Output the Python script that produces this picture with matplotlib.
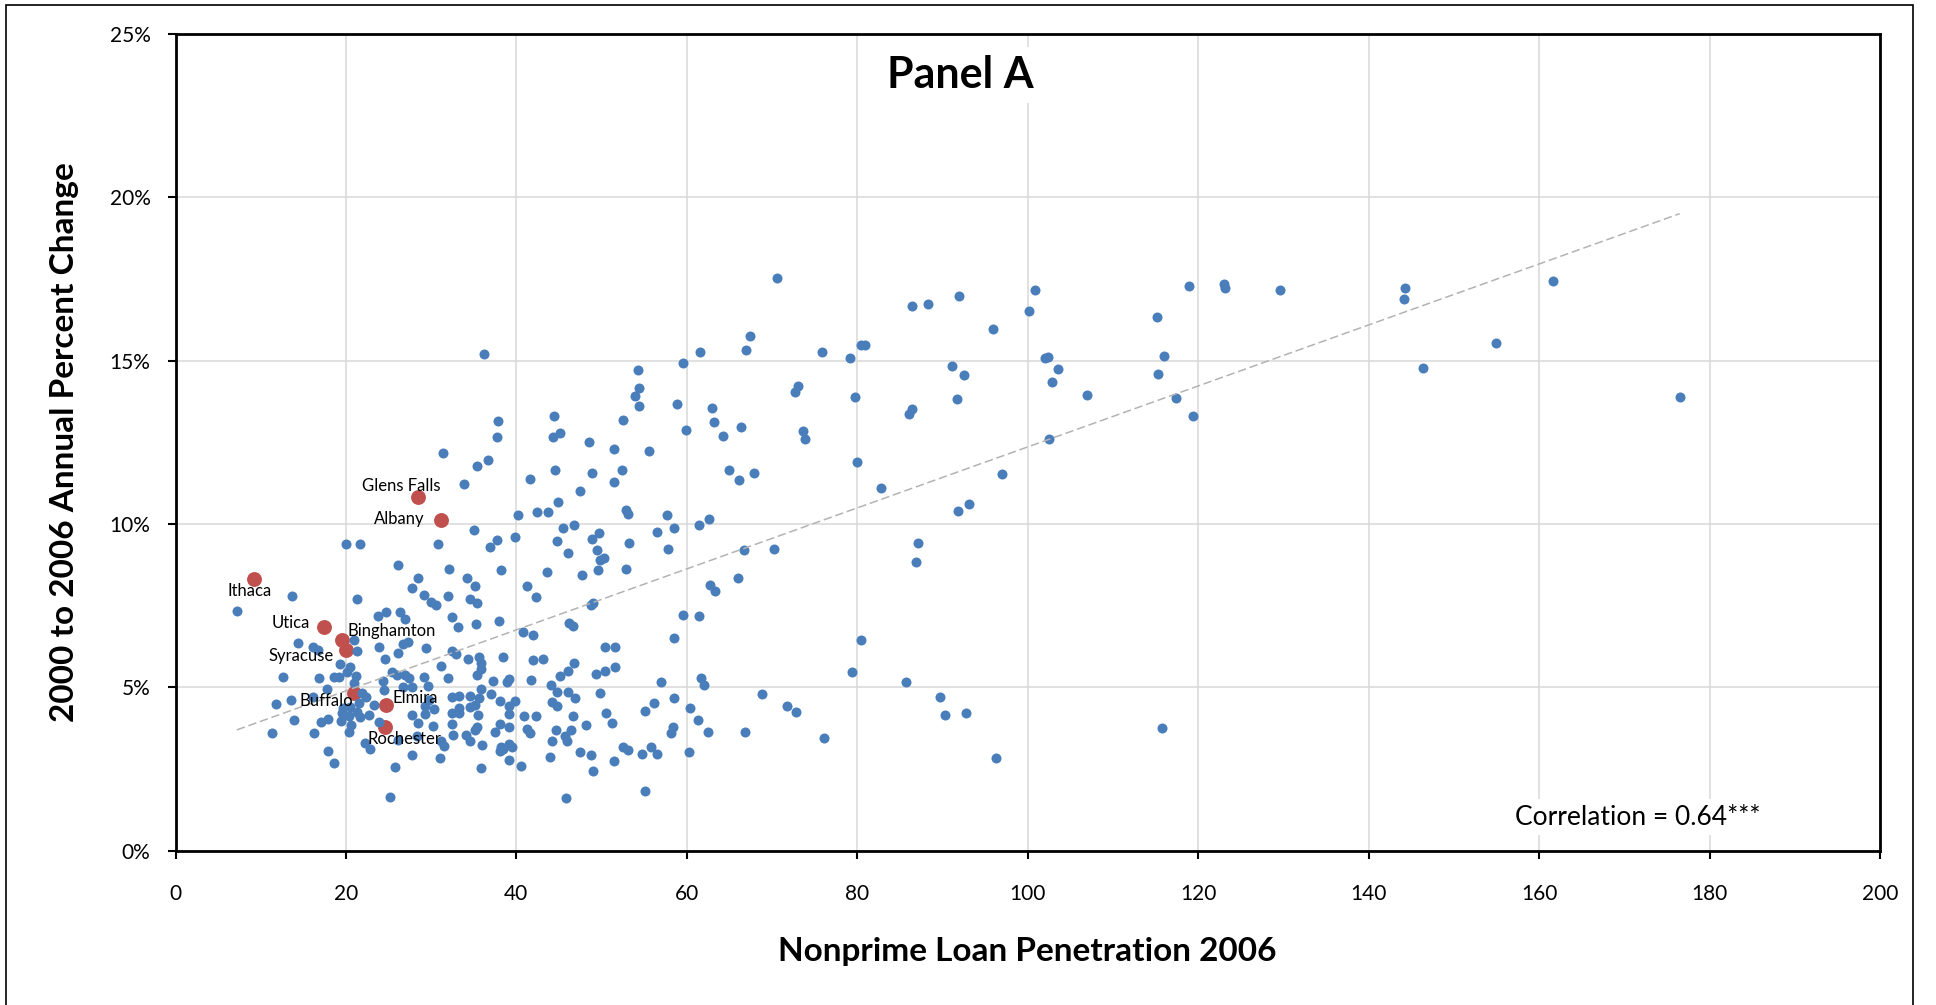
import numpy as np
import matplotlib.pyplot as plt
from matplotlib.ticker import MultipleLocator, FuncFormatter
from matplotlib.patches import Rectangle

plt.rcParams['font.family'] = ['Lato', 'DejaVu Sans']

# metro areas: nonprime loan penetration 2006 (x) and 2000-2006 annual % change (y)
x_msa = [
    36.2, 37.8, 37.75, 31.4, 35.4, 36.7, 33.9, 35.0, 36.85, 37.75, 30.8, 20.0, 21.6, 26.15, 28.45, 32.1, 34.15, 7.2,
    70.6, 67.4, 66.9, 61.5, 59.5, 75.8, 79.2, 80.4, 80.9, 54.25, 54.4, 53.9, 54.4, 58.9, 62.9, 63.15, 59.9, 66.4,
    64.3, 72.65, 73.05, 79.75, 73.6, 73.9, 79.95, 82.75, 64.9, 66.15, 67.85, 44.4, 44.3, 45.1, 48.5, 51.4, 52.5,
    55.6, 48.9, 44.5, 52.4, 51.4, 41.65, 47.45, 44.85, 40.15, 42.4, 43.65, 46.7, 45.5, 44.8, 46.1, 48.85, 49.75,
    49.45, 49.8, 50.3, 49.55, 47.7, 43.55, 39.85, 38.25, 52.9, 53.1, 53.25, 52.85, 57.7, 58.45, 56.45, 57.8, 61.4,
    62.65, 66.7, 70.25, 65.95,
    62.7, 63.3, 59.6, 61.4, 58.45, 80.4, 79.4, 68.85, 71.75, 72.75, 76.15, 66.85, 61.65, 62.05, 57.0, 58.55, 60.4,
    61.25, 62.45, 60.2, 58.1, 58.4, 56.1, 55.75, 56.45,
    86.4, 88.3, 91.9, 95.9, 100.1, 100.9, 115.2, 118.9, 123.0, 123.2, 129.6, 91.1, 92.5, 91.7, 86.1, 86.4, 102.0,
    102.4, 103.5, 102.9, 106.9, 116.0, 115.3, 117.4, 119.4, 102.5, 97.0, 93.1, 91.8, 87.1, 86.9, 85.7, 89.7, 90.3,
    92.8, 115.8, 96.3, 144.3, 144.2, 146.4, 154.9, 161.6, 176.5,
    35.1, 34.6, 35.35, 41.2, 42.25, 33.2, 35.3, 37.9, 40.8, 42.0, 46.2, 46.6, 48.8, 48.95, 50.45, 51.6, 34.35, 35.6,
    35.9, 35.9, 35.35, 38.4, 41.9, 43.15, 46.8, 46.1, 45.15, 49.35, 50.35, 51.6, 37.3, 38.95, 39.1, 41.75, 44.1,
    35.85, 37.05, 34.6, 35.65, 33.3, 38.05, 39.8, 39.15, 44.8, 46.0, 46.9, 44.15, 44.75, 49.85, 33.3, 34.6, 35.15,
    33.25, 35.5, 39.1, 40.9, 42.3, 46.6, 50.55, 55.05, 38.05, 39.15, 51.25, 48.2, 35.4, 35.15, 41.3, 34.1, 34.55,
    37.5, 41.6, 44.65, 45.75, 45.95, 46.4, 44.15, 35.95, 38.25, 38.45, 39.15, 39.45, 38.05, 39.1, 40.5, 35.8, 44.0,
    47.5, 48.8, 49.0, 51.5, 52.55, 53.15, 54.7, 55.1, 45.85,
    13.7, 21.35, 27.7, 29.15, 29.95, 30.55, 32.0, 23.8, 24.65, 26.4, 26.9, 32.4, 20.9, 14.35, 16.1, 16.75, 21.35,
    23.9, 26.15, 26.7, 27.25, 29.35, 24.6, 32.5, 32.95, 19.35, 20.45, 20.15, 12.65, 16.8, 18.55, 19.2, 21.15, 21.0,
    25.35, 26.0, 26.95, 27.45, 29.15, 31.2, 31.95, 24.4, 24.45, 26.7, 27.7, 29.65, 17.75, 16.15, 13.6, 11.8, 21.85,
    22.35, 21.55, 19.7, 20.45, 21.25, 19.5, 20.4, 21.65, 19.4, 20.65, 20.4, 22.75, 23.3, 23.85, 17.05, 17.95, 13.95,
    11.3, 16.3, 17.85, 18.65, 22.25, 22.8, 25.75, 25.2, 26.15, 27.8, 28.35, 29.25, 28.5, 27.7, 30.25, 31.0, 31.55,
    31.1, 29.25, 30.3, 29.75, 32.6, 32.4, 32.5, 32.5,
]
y_msa = [
    15.19, 13.16, 12.66, 12.17, 11.77, 11.95, 11.23, 9.82, 9.31, 9.51, 9.40, 9.39, 9.39, 8.74, 8.36, 8.61, 8.34, 7.34,
    17.53, 15.77, 15.34, 15.27, 14.94, 15.26, 15.07, 15.49, 15.49, 14.71, 14.16, 13.91, 13.62, 13.68, 13.55, 13.12,
    12.87, 12.97, 12.69, 14.03, 14.23, 13.89, 12.86, 12.60, 11.89, 11.11, 11.65, 11.35, 11.57, 13.32, 12.66, 12.79,
    12.52, 12.31, 13.19, 12.24, 11.55, 11.64, 11.64, 11.28, 11.38, 11.01, 10.67, 10.28, 10.36, 10.36, 9.98, 9.87,
    9.47, 9.12, 9.53, 9.71, 9.20, 8.90, 8.95, 8.58, 8.43, 8.52, 9.60, 8.58, 10.42, 10.30, 9.41, 8.61, 10.27, 9.87,
    9.77, 9.23, 9.96, 10.16, 9.22, 9.25, 8.36,
    8.14, 7.94, 7.22, 7.17, 6.52, 6.46, 5.48, 4.80, 4.44, 4.25, 3.44, 3.63, 5.29, 5.07, 5.16, 4.68, 4.37, 3.99, 3.63,
    3.01, 3.60, 3.80, 4.52, 3.16, 2.97,
    16.67, 16.72, 16.98, 15.96, 16.52, 17.16, 16.33, 17.29, 17.35, 17.24, 17.16, 14.83, 14.55, 13.82, 13.37, 13.53,
    15.07, 15.12, 14.75, 14.36, 13.95, 15.15, 14.60, 13.87, 13.32, 12.60, 11.53, 10.60, 10.41, 9.41, 8.85, 5.17,
    4.71, 4.15, 4.20, 3.76, 2.85, 17.24, 16.88, 14.78, 15.55, 17.43, 13.90,
    8.10, 7.70, 7.59, 8.10, 7.76, 6.86, 6.94, 7.04, 6.70, 6.60, 6.98, 6.88, 7.52, 7.59, 6.25, 6.25, 5.86, 5.94, 5.76,
    5.55, 5.38, 5.92, 5.84, 5.88, 5.75, 5.51, 5.35, 5.41, 5.51, 5.61, 5.20, 5.17, 5.25, 5.21, 5.06, 4.95, 4.79, 4.75,
    4.66, 4.73, 4.58, 4.57, 4.43, 4.87, 4.87, 4.68, 4.55, 4.43, 4.82, 4.37, 4.41, 4.45, 4.22, 4.14, 4.17, 4.12, 4.12,
    4.13, 4.22, 4.27, 3.88, 3.80, 3.90, 3.84, 3.80, 3.71, 3.74, 3.53, 3.36, 3.63, 3.59, 3.69, 3.51, 3.36, 3.69, 3.37,
    3.25, 3.18, 3.10, 3.26, 3.18, 3.04, 2.77, 2.59, 2.52, 2.87, 3.03, 2.94, 2.45, 2.74, 3.18, 3.08, 2.96, 1.82, 1.62,
    7.80, 7.72, 8.03, 7.83, 7.60, 7.52, 7.81, 7.19, 7.30, 7.30, 7.08, 7.16, 6.45, 6.35, 6.25, 6.14, 6.12, 6.25, 6.04,
    6.32, 6.40, 6.19, 5.87, 6.12, 6.02, 5.71, 5.61, 5.48, 5.31, 5.28, 5.31, 5.31, 5.35, 5.12, 5.46, 5.38, 5.38, 5.28,
    5.33, 5.66, 5.30, 5.20, 4.92, 5.00, 5.00, 5.04, 4.95, 4.71, 4.61, 4.48, 4.82, 4.69, 4.51, 4.36, 4.41, 4.26, 4.20,
    4.12, 4.10, 3.98, 3.85, 3.64, 4.15, 4.46, 3.95, 3.93, 4.02, 4.00, 3.59, 3.61, 3.06, 2.69, 3.31, 3.11, 2.57, 1.63,
    3.39, 2.92, 3.52, 4.18, 3.92, 4.15, 3.83, 2.83, 3.20, 3.37, 4.43, 4.34, 4.61, 3.55, 4.20, 3.88, 4.72,
]

# New York metros, highlighted in red
ny_names = ['Ithaca', 'Utica', 'Binghamton', 'Syracuse', 'Buffalo', 'Elmira', 'Rochester', 'Glens Falls', 'Albany']
ny_x = [9.24, 17.46, 19.57, 20.0, 20.98, 24.69, 24.53, 28.5, 31.15]
ny_y = [8.31, 6.86, 6.45, 6.14, 4.82, 4.45, 3.79, 10.82, 10.12]

W, H = 1936, 1005
fig = plt.figure(figsize=(W / 100, H / 100), dpi=100)
ax = fig.add_axes([175.5 / W, 1 - 850.7 / H, (1880 - 175.5) / W, (850.7 - 34) / H])

ax.scatter(ny_x, ny_y, s=115, color='#c0504d', linewidths=0, zorder=3)
ax.scatter(x_msa, y_msa, s=52, color='#4a7ebb', linewidths=0, zorder=4)

# linear trend over all metros
all_x = np.array(x_msa + ny_x)
all_y = np.array(y_msa + ny_y)
slope, icpt = np.polyfit(all_x, all_y, 1)
xs = np.array([all_x.min(), all_x.max()])
ax.plot(xs, icpt + slope * xs, color='#b3b3b3', lw=1.1, ls=(0, (5.5, 2.5)), zorder=5)

# label offsets in pixels from each red point
offsets = {'Ithaca': (-5, -12), 'Utica': (-33, 4), 'Binghamton': (49, 9), 'Syracuse': (-45, -6),
           'Buffalo': (-28, -8), 'Elmira': (29, 7), 'Rochester': (20, -12), 'Glens Falls': (-17, 11),
           'Albany': (-42, 1)}
for name, px, py in zip(ny_names, ny_x, ny_y):
    ax.annotate(name, (px, py), xytext=offsets[name], textcoords='offset pixels',
                ha='center', va='center', fontsize=12, zorder=6)

ax.set_xlim(0, 200)
ax.set_ylim(0, 25)
ax.xaxis.set_major_locator(MultipleLocator(20))
ax.yaxis.set_major_locator(MultipleLocator(5))
ax.yaxis.set_major_formatter(FuncFormatter(lambda v, _: f'{v:.0f}%'))
ax.grid(True, color='#d9d9d9', lw=1.1)
ax.set_axisbelow(True)
for sp in ax.spines.values():
    sp.set_linewidth(2)
    sp.set_color('black')
ax.tick_params(axis='both', direction='out', length=6, width=1.5, labelsize=15)
ax.tick_params(axis='x', pad=18)
ax.tick_params(axis='y', pad=12)

ax.set_xlabel('Nonprime Loan Penetration 2006', fontsize=24, fontweight='bold', va='center')
ax.xaxis.set_label_coords(0.5, -0.124)
ax.set_ylabel('2000 to 2006 Annual Percent Change', fontsize=24, fontweight='bold', va='center')
ax.yaxis.set_label_coords(-0.0654, 0.5)

ax.text(92.1, 23.34, 'Panel A', ha='center', va='baseline', fontsize=31, fontweight='bold',
        bbox=dict(facecolor='white', edgecolor='none', pad=6), zorder=7)
ax.text(171.6, 0.8, 'Correlation = 0.64***', ha='center', va='baseline', fontsize=19,
        bbox=dict(facecolor='white', edgecolor='none', pad=4), zorder=7)

fig.patches.append(Rectangle((6 / W, -0.02), (1913 - 6) / W, 1.02 - 5 / H, transform=fig.transFigure,
                             fill=False, edgecolor='black', lw=1.2))

fig.savefig('out.png', dpi=100)
